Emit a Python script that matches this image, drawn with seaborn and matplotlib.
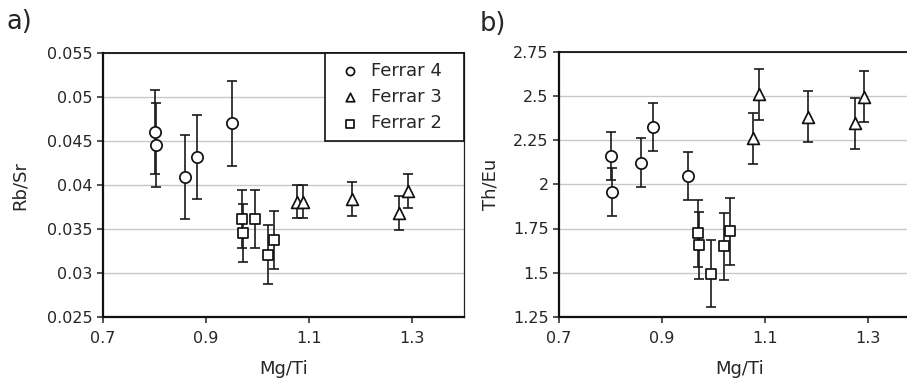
import numpy as np
import pandas as pd
import matplotlib
matplotlib.use("Agg")
import matplotlib.pyplot as plt
import seaborn as sns

# sample groups and Mg/Ti values (same samples in both panels)
groups = ["Ferrar 4", "Ferrar 3", "Ferrar 2"]
mgti_f4 = [0.800, 0.802, 0.859, 0.882, 0.951]
mgti_f3 = [1.077, 1.089, 1.183, 1.275, 1.293]
mgti_f2 = [0.970, 0.971, 0.995, 1.021, 1.032]

# panel a: Rb/Sr and its error
rbsr_f4 = [0.0460, 0.04456, 0.0409, 0.0432, 0.0470]
rbsr_f3 = [0.0381, 0.0381, 0.0384, 0.0368, 0.0393]
rbsr_f2 = [0.0361, 0.0345, 0.0361, 0.0321, 0.0337]
rbsr_err = [0.0048, 0.0019, 0.0033]

# panel b: Th/Eu and its error
theu_f4 = [2.159, 1.957, 2.122, 2.324, 2.046]
theu_f3 = [2.259, 2.508, 2.382, 2.344, 2.495]
theu_f2 = [1.722, 1.654, 1.495, 1.650, 1.735]
theu_err = [0.137, 0.143, 0.19]

xticks = [0.7, 0.9, 1.1, 1.3]
xticklabels = ["0.7", "0.9", "1.1", "1.3"]
yticks_a = [0.025, 0.03, 0.035, 0.04, 0.045, 0.05, 0.055]
yticklabels_a = ["0.025", "0.03", "0.035", "0.04", "0.045", "0.05", "0.055"]
yticks_b = [1.25, 1.5, 1.75, 2.0, 2.25, 2.5, 2.75]
yticklabels_b = ["1.25", "1.5", "1.75", "2", "2.25", "2.5", "2.75"]

sns.set_style("white")
plt.rcParams['font.family'] = ['DejaVu Sans']


def make_df(ys, errs):
    xs = [mgti_f4, mgti_f3, mgti_f2]
    parts = []
    for g, x, y, e in zip(groups, xs, ys, errs):
        parts.append(pd.DataFrame({"x": x, "y": y, "err": e, "group": g}))
    return pd.concat(parts, ignore_index=True)


df_a = make_df([rbsr_f4, rbsr_f3, rbsr_f2], rbsr_err)
df_b = make_df([theu_f4, theu_f3, theu_f2], theu_err)

markers = {"Ferrar 4": "o", "Ferrar 3": "^", "Ferrar 2": "s"}
sizes = {"Ferrar 4": 66, "Ferrar 3": 72, "Ferrar 2": 56}

fig = plt.figure(figsize=(9.07, 3.82), dpi=100)
ax_a = fig.add_axes([103 / 907, 65 / 382, 360.5 / 907, 264 / 382])
ax_b = fig.add_axes([559 / 907, 65 / 382, 360.5 / 907, 265.5 / 382])


def draw(ax, df, yticks, yticklabels, ylabel, ypad, show_legend):
    ax.errorbar(df["x"], df["y"], yerr=df["err"], fmt="none", ecolor="#1a1a1a",
                elinewidth=1.2, capsize=3.8, capthick=1.2, zorder=2)
    for g in groups:
        sub = df[df["group"] == g]
        sns.scatterplot(data=sub, x="x", y="y", marker=markers[g], s=sizes[g],
                        facecolor="white", edgecolor="#111111", linewidth=1.25,
                        label=g if show_legend else None, ax=ax, zorder=3)
    ax.set_xlim(0.7, 1.4)
    ax.set_ylim(yticks[0], yticks[-1])
    ax.set_xticks(xticks)
    ax.set_xticklabels(xticklabels)
    ax.set_yticks(yticks)
    ax.set_yticklabels(yticklabels)
    ax.yaxis.grid(True, color="#c8c8c8", linewidth=1.0)
    ax.set_axisbelow(True)
    ax.tick_params(axis="both", direction="out", length=4, width=1.1,
                   color="#222222", labelsize=11.5, left=True, bottom=True)
    ax.tick_params(axis="x", pad=6)
    ax.tick_params(axis="y", pad=3.5)
    ax.set_xlabel("Mg/Ti", fontsize=13, labelpad=10)
    ax.set_ylabel(ylabel, fontsize=13, labelpad=ypad)
    for side in ["left", "bottom"]:
        ax.spines[side].set_linewidth(1.6)
        ax.spines[side].set_color("#111111")
    ax.spines["top"].set_linewidth(1.3)
    ax.spines["top"].set_color("#111111")
    ax.spines["right"].set_linewidth(0.9)
    ax.spines["right"].set_color("#222222")


draw(ax_a, df_a, yticks_a, yticklabels_a, "Rb/Sr", 13, True)
draw(ax_b, df_b, yticks_b, yticklabels_b, "Th/Eu", 10, False)

leg = ax_a.legend(loc="upper right", bbox_to_anchor=(0.616, 0.0, 0.384, 1.0),
                  mode="expand", borderaxespad=0, frameon=True, fancybox=False,
                  edgecolor="#111111", fontsize=13, markerscale=0.72,
                  handletextpad=0.22, labelspacing=0.45, borderpad=0.5,
                  handlelength=1.8)
leg.get_frame().set_linewidth(1.2)
leg.get_frame().set_alpha(1)

fig.text(7 / 907, 1 - 22 / 382, "a)", fontsize=18.5, va="center", ha="left")
fig.text(480 / 907, 1 - 24 / 382, "b)", fontsize=18.5, va="center", ha="left")

fig.savefig("out.png", dpi=100)
